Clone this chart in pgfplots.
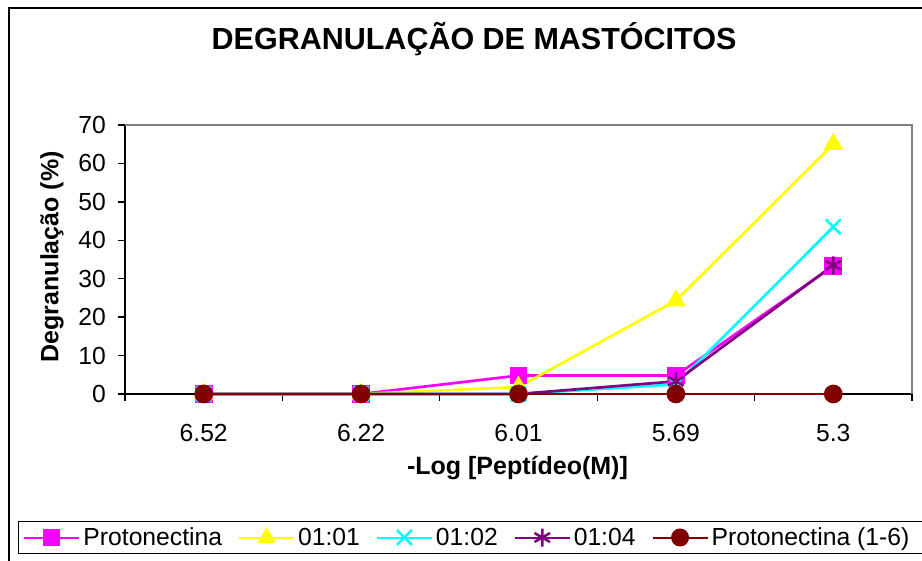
\documentclass[border=0pt]{standalone}
\usepackage{fontspec}
\setmainfont{Liberation Sans}
\usepackage{pgfplots}
\pgfplotsset{compat=1.18}
\definecolor{cMag}{HTML}{FF00FF}
\definecolor{cYel}{HTML}{FFFF00}
\definecolor{cCya}{HTML}{00FFFF}
\definecolor{cPur}{HTML}{800080}
\definecolor{cRed}{HTML}{800000}
\definecolor{cGry}{HTML}{808080}
\begin{document}
\begin{tikzpicture}
\useasboundingbox (0,0) rectangle (922pt,561pt);
\draw[line width=1.3pt] (9pt,-20pt) rectangle (940pt,553pt);
\begin{axis}[
  at={(125pt,167pt)}, anchor=south west,
  scale only axis, width=787pt, height=269pt,
  xmin=-0.5, xmax=4.5, ymin=0, ymax=70,
  clip=false,
  axis lines=left, axis line style={-, line width=1.3pt, black},
  xtick={0,1,2,3,4}, xticklabels={6.52,6.22,6.01,5.69,5.3},
  minor xtick={-0.5,0.5,1.5,2.5,3.5,4.5},
  ytick={0,10,...,70}, minor ytick={0,10,...,70},
  major tick length=0pt, minor tick length=7pt, tick align=outside,
  tick style={line width=1.3pt, black},
  /pgf/number format/assume math mode=true,
  tick label style={font=\fontsize{24.7}{29}\selectfont},
  xticklabel style={anchor=base, yshift=-48pt, inner sep=0pt},
  yticklabel style={anchor=east, inner sep=0pt, xshift=-19pt},
  title={DEGRANULAÇÃO DE MASTÓCITOS},
  title style={font=\bfseries\fontsize{30.5}{36}\selectfont, at={(axis description cs:0.4435,1.26)}, anchor=base},
  xlabel={-Log [Peptídeo(M)]},
  xlabel style={font=\bfseries\fontsize{25}{30}\selectfont, at={(axis description cs:0.4987,-0.301)}, anchor=base},
  ylabel={Degranulação (\%)},
  ylabel style={font=\bfseries\fontsize{25}{30}\selectfont, at={(axis description cs:-0.0928,0.51)}, anchor=center},
  legend columns=5,
  legend style={at={(axis description cs:-0.136,-0.5335)}, anchor=west, draw=black, line width=1pt,
    font=\fontsize{24.7}{29}\selectfont, inner xsep=5pt, inner ysep=4pt,
    nodes={inner xsep=3pt, inner ysep=2pt},
    /tikz/every even column/.append style={column sep=13pt}},
  legend image code/.code={\draw[mark repeat=2,mark phase=2,#1,line width=2pt] plot coordinates {(0pt,0pt)(27.5pt,0pt)(55pt,0pt)};},
]
\addplot[color=cMag, line width=2.7pt, mark=square*, mark size=7.5pt, mark options={solid, fill=cMag}]
  coordinates {(0,0) (1,0) (2,4.8) (3,4.8) (4,33.3)};
\addlegendentry{Protonectina}
\addplot[color=cYel, line width=2.7pt, mark=triangle*, mark size=8.7pt, mark options={solid, fill=cYel}]
  coordinates {(0,0) (1,0) (2,1.8) (3,24.3) (4,65)};
\addlegendentry{01:01}
\addplot[color=cCya, line width=2.7pt, mark=x, mark size=10.5pt, mark options={solid, line width=2.5pt}]
  coordinates {(0,0) (1,0) (2,0) (3,2.5) (4,43.5)};
\addlegendentry{01:02}
\addplot[color=cPur, line width=2.7pt, mark=asterisk, mark size=9pt, mark options={solid, line width=2.5pt}]
  coordinates {(0,0) (1,0) (2,0) (3,3.3) (4,33.5)};
\addlegendentry{01:04}
\addplot[color=cRed, line width=2.7pt, mark=*, mark size=8pt, mark options={solid, fill=cRed}]
  coordinates {(0,0) (1,0) (2,0) (3,0) (4,0)};
\addlegendentry{Protonectina (1-6)\hspace*{30pt}}
\draw[cGry, line width=2pt] (rel axis cs:0,1) -- (rel axis cs:1,1) -- (rel axis cs:1,0);
\end{axis}
\end{tikzpicture}
\end{document}
